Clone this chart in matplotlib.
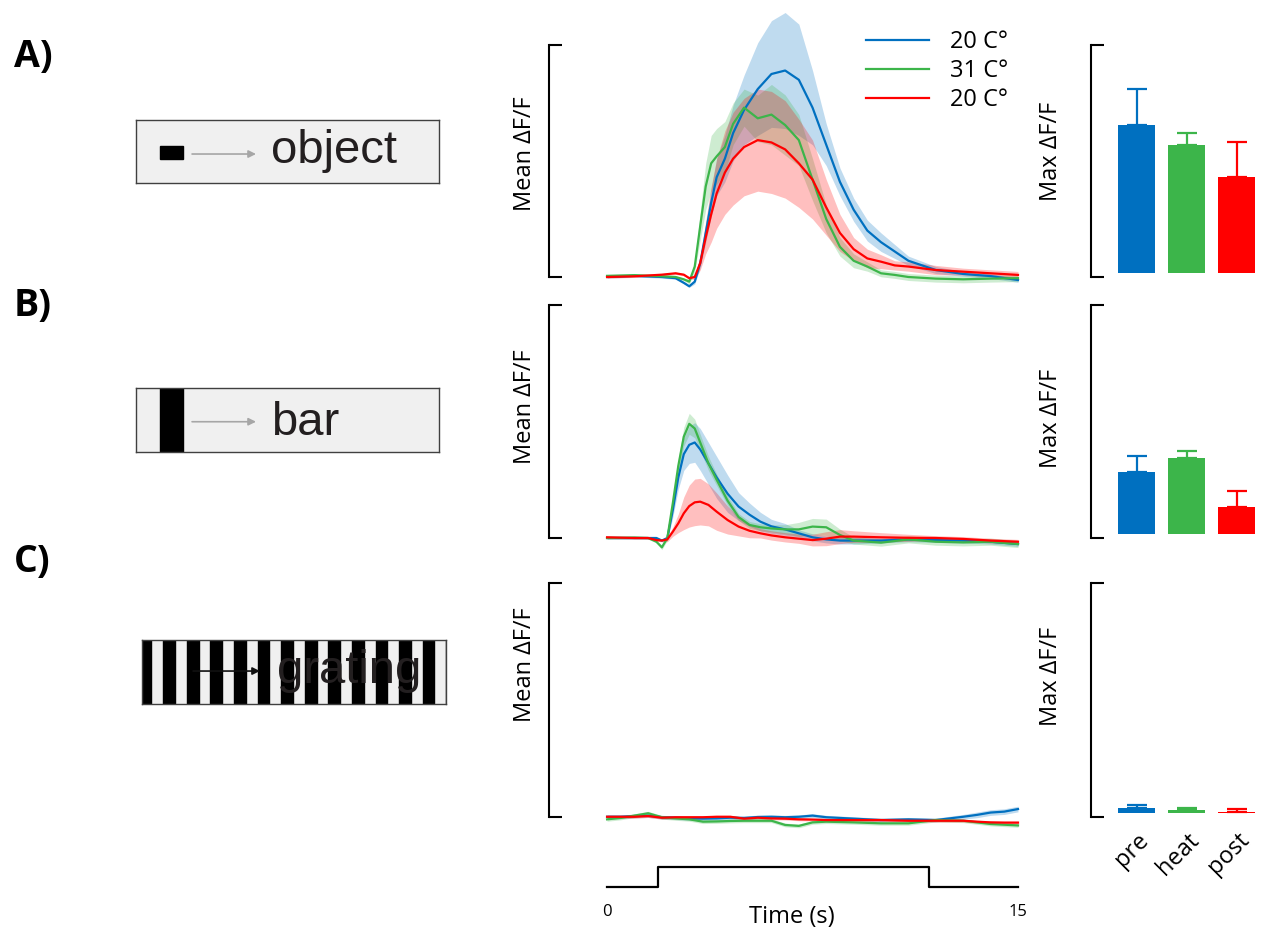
import numpy as np
import matplotlib.pyplot as plt
from matplotlib.patches import Rectangle

plt.rcParams['font.family'] = ['Open Sans', 'DejaVu Sans']

# ---- data (units: fraction of the bracket height) ----
conditions = ['pre', 'heat', 'post']
legend_labels = ['20 C°', '31 C°', '20 C°']
colors = ['#0070c0', '#3cb54a', '#ff0000']

# A) object
t_A = [0, 1, 2, 2.5, 2.8, 3.0, 3.2, 3.4, 3.6, 3.8, 4.0, 4.3, 4.6, 5.0, 5.5,
       6.0, 6.5, 7.0, 7.5, 8.0, 8.5, 9.0, 9.5, 10, 10.5, 11, 12, 13, 14, 15]
A_pre = [0.000, 0.005, 0.000, -0.005, -0.025, -0.040, -0.020, 0.060, 0.190, 0.320,
         0.430, 0.510, 0.620, 0.720, 0.810, 0.875, 0.890, 0.850, 0.730, 0.570,
         0.410, 0.290, 0.200, 0.150, 0.110, 0.070, 0.030, 0.013, 0.004, -0.013]
A_pre_sem = [0.005, 0.005, 0.005, 0.005, 0.005, 0.005, 0.01, 0.02, 0.04, 0.06,
             0.08, 0.10, 0.12, 0.15, 0.20, 0.23, 0.25, 0.24, 0.16, 0.09,
             0.06, 0.05, 0.045, 0.04, 0.03, 0.02, 0.015, 0.01, 0.01, 0.01]
A_heat = [0.005, 0.008, 0.003, 0.000, -0.010, -0.020, 0.045, 0.220, 0.390, 0.490,
          0.520, 0.560, 0.660, 0.730, 0.684, 0.700, 0.655, 0.590, 0.420, 0.250,
          0.130, 0.070, 0.045, 0.016, 0.009, 0.000, -0.007, -0.010, -0.007, -0.005]
A_heat_sem = [0.005, 0.005, 0.005, 0.005, 0.005, 0.01, 0.02, 0.06, 0.10, 0.12,
              0.12, 0.11, 0.09, 0.08, 0.10, 0.13, 0.13, 0.11, 0.09, 0.06,
              0.04, 0.03, 0.02, 0.015, 0.015, 0.015, 0.015, 0.015, 0.015, 0.015]
A_post = [0.000, 0.003, 0.010, 0.016, 0.010, -0.005, 0.000, 0.060, 0.170, 0.270,
          0.360, 0.450, 0.510, 0.560, 0.590, 0.580, 0.550, 0.490, 0.420, 0.300,
          0.190, 0.120, 0.080, 0.066, 0.050, 0.045, 0.030, 0.023, 0.016, 0.009]
A_post_sem = [0.005, 0.005, 0.005, 0.005, 0.005, 0.005, 0.01, 0.03, 0.07, 0.12,
              0.15, 0.18, 0.20, 0.21, 0.22, 0.22, 0.21, 0.19, 0.17, 0.12,
              0.08, 0.05, 0.04, 0.03, 0.02, 0.02, 0.02, 0.015, 0.015, 0.015]

# B) bar
t_B = [0, 1, 1.5, 1.8, 2.0, 2.2, 2.4, 2.6, 2.8, 3.0, 3.2, 3.4, 3.7, 4.0, 4.4, 4.8,
       5.2, 5.6, 6.0, 6.5, 7.0, 7.5, 8.0, 8.5, 9.0, 10, 11, 12, 13, 14, 15]
B_pre = [0.000, 0.000, 0.000, 0.000, -0.011, 0.000, 0.120, 0.260, 0.360, 0.400,
         0.410, 0.380, 0.320, 0.260, 0.190, 0.135, 0.100, 0.070, 0.050, 0.037,
         0.020, 0.003, -0.006, -0.011, -0.011, -0.011, -0.006, -0.009, -0.011, -0.016, -0.026]
B_pre_sem = [0.005, 0.005, 0.005, 0.005, 0.005, 0.01, 0.03, 0.05, 0.07, 0.08,
             0.085, 0.09, 0.09, 0.09, 0.08, 0.06, 0.05, 0.04, 0.03, 0.025,
             0.015, 0.015, 0.015, 0.015, 0.015, 0.01, 0.01, 0.01, 0.01, 0.01, 0.01]
B_heat = [0.000, 0.002, 0.000, -0.016, -0.040, 0.000, 0.150, 0.310, 0.435, 0.490,
          0.470, 0.410, 0.320, 0.250, 0.160, 0.090, 0.056, 0.046, 0.041, 0.037,
          0.037, 0.049, 0.046, 0.013, -0.011, -0.020, -0.006, -0.016, -0.019, -0.016, -0.026]
B_heat_sem = [0.005, 0.005, 0.005, 0.005, 0.01, 0.01, 0.02, 0.03, 0.04, 0.045,
              0.04, 0.035, 0.03, 0.025, 0.02, 0.015, 0.015, 0.015, 0.015, 0.02,
              0.03, 0.035, 0.035, 0.025, 0.015, 0.015, 0.015, 0.015, 0.015, 0.015, 0.015]
B_post = [0.003, 0.000, 0.000, -0.009, -0.011, -0.006, 0.027, 0.063, 0.106, 0.137,
          0.153, 0.156, 0.142, 0.113, 0.077, 0.049, 0.031, 0.020, 0.011, 0.003,
          -0.003, -0.009, -0.003, 0.006, 0.006, 0.003, 0.001, 0.000, -0.004, -0.011, -0.016]
B_post_sem = [0.005, 0.005, 0.005, 0.005, 0.005, 0.01, 0.02, 0.04, 0.07, 0.09,
              0.10, 0.10, 0.09, 0.08, 0.06, 0.04, 0.03, 0.02, 0.02, 0.02,
              0.02, 0.025, 0.03, 0.03, 0.025, 0.02, 0.015, 0.01, 0.01, 0.01, 0.01]

# C) grating
t_C = [0, 0.5, 1, 1.5, 2, 2.5, 3, 3.5, 4, 4.5, 5, 5.5, 6, 6.5, 7, 7.5, 8,
       9, 10, 11, 12, 13, 13.5, 14, 14.5, 15]
C_pre = [0.001, 0.001, 0.004, 0.006, -0.001, -0.003, -0.006, -0.007, -0.006, -0.003,
         -0.004, 0.000, 0.001, -0.001, 0.001, 0.006, -0.001, -0.007, -0.013, -0.010,
         -0.013, 0.001, 0.009, 0.019, 0.023, 0.034]
C_pre_sem = [0.008] * 21 + [0.010, 0.012, 0.012, 0.012, 0.012]
C_heat = [-0.010, -0.004, 0.006, 0.016, -0.001, -0.006, -0.010, -0.020, -0.019, -0.017,
          -0.016, -0.016, -0.016, -0.034, -0.038, -0.023, -0.020, -0.023, -0.027, -0.027,
          -0.013, -0.016, -0.023, -0.030, -0.033, -0.036]
C_heat_sem = [0.008] * 26
C_post = [0.001, 0.001, 0.001, 0.004, -0.003, -0.001, -0.001, -0.001, 0.001, 0.001,
          -0.007, -0.003, -0.006, -0.007, -0.010, -0.011, -0.013, -0.013, -0.013, -0.016,
          -0.016, -0.016, -0.020, -0.023, -0.024, -0.024]
C_post_sem = [0.006] * 26

# max dF/F bars
A_max = [0.650, 0.561, 0.421]
A_max_err = [0.157, 0.053, 0.154]
B_max = [0.270, 0.330, 0.118]
B_max_err = [0.070, 0.030, 0.070]
C_max = [0.020, 0.013, 0.004]
C_max_err = [0.013, 0.010, 0.012]

stim_on, stim_off = 1.85, 11.75
t_end = 15

panels = [
    ('A)', 'object', t_A, [A_pre, A_heat, A_post], [A_pre_sem, A_heat_sem, A_post_sem], A_max, A_max_err),
    ('B)', 'bar', t_B, [B_pre, B_heat, B_post], [B_pre_sem, B_heat_sem, B_post_sem], B_max, B_max_err),
    ('C)', 'grating', t_C, [C_pre, C_heat, C_post], [C_pre_sem, C_heat_sem, C_post_sem], C_max, C_max_err),
]

# ---- layout (pixels of the 1262x932 canvas) ----
W, H = 1262, 932
rows = [(45, 277), (305, 538), (583, 817)]       # top/bottom of each row
letter_y = [57, 306, 562]
icon_boxes = [(136, 120, 439, 183), (136, 388, 439, 452), (142, 640, 446, 704)]
mean_label_y = [0.53, 0.562, 0.65]
max_label_y = [0.543, 0.515, 0.60]


def rect_px(x0, y0, x1, y1):
    return [x0 / W, 1 - y1 / H, (x1 - x0) / W, (y1 - y0) / H]


def bracket(ax, y0, y1):
    for s in ['top', 'right', 'bottom']:
        ax.spines[s].set_visible(False)
    ax.spines['left'].set_linewidth(1.5)
    ax.set_ylim(y0, y1)
    ax.set_yticks([y0, y1])
    ax.set_yticklabels([])
    ax.tick_params(axis='y', direction='in', length=9, width=1.5)
    ax.set_xticks([])


def icon_axes(box):
    ax = fig.add_axes(rect_px(*box))
    ax.set_xlim(0, 1)
    ax.set_ylim(0, 1)
    ax.set_xticks([])
    ax.set_yticks([])
    ax.set_facecolor('#f0f0f0')
    for s in ax.spines.values():
        s.set_color('#404040')
        s.set_linewidth(1.0)
    return ax


def arrow(ax, x0, x1, y, color, head):
    ax.annotate('', xy=(x1, y), xytext=(x0, y),
                arrowprops=dict(arrowstyle='-|>', color=color, fc=head, ec=head,
                                lw=1.2, mutation_scale=11, shrinkA=0, shrinkB=0))


fig = plt.figure(figsize=(W / 100, H / 100), dpi=100)
icon_font = dict(family=['Liberation Sans', 'DejaVu Sans'], fontsize=34, color='#231f20')

for i, (letter, stim, t, means, sems, maxv, maxerr) in enumerate(panels):
    top, bot = rows[i]
    fig.text(14 / W, 1 - letter_y[i] / H, letter, fontsize=27, fontweight='bold',
             ha='left', va='center')

    # stimulus icon
    ia = icon_axes(icon_boxes[i])
    if stim == 'object':
        ia.add_patch(Rectangle((0.079, 0.38), 0.076, 0.207, color='black'))
        arrow(ia, 0.185, 0.396, 0.46, '#a6a6a6', '#a6a6a6')
        ia.text(0.447, 0.317, 'object', ha='left', va='baseline', **icon_font)
    elif stim == 'bar':
        ia.add_patch(Rectangle((0.079, 0), 0.076, 1, color='black'))
        arrow(ia, 0.185, 0.396, 0.473, '#a6a6a6', '#a6a6a6')
        ia.text(0.447, 0.266, 'bar', ha='left', va='baseline', **icon_font)
    else:
        period, width = 0.0776, 0.0385
        for k in range(14):
            ia.add_patch(Rectangle((-0.0076 + k * period, 0), width, 1, color='black'))
        arrow(ia, 0.168, 0.388, 0.515, '#606060', '#111111')
        ia.text(0.443, 0.323, 'grating', ha='left', va='baseline', **icon_font)

    # mean traces
    ax = fig.add_axes(rect_px(549, top, 1018, bot))
    bracket(ax, 0, 1)
    ax.set_xlim(-2.12, t_end)
    for m, s, c in zip(means, sems, colors):
        m, s = np.array(m), np.array(s)
        ax.fill_between(t, m - s, m + s, color=c, alpha=0.25, lw=0, clip_on=False)
    for m, c, lab in zip(means, colors, legend_labels):
        ax.plot(t, m, color=c, lw=1.6, clip_on=False, label=lab,
                solid_joinstyle='round')
    ax.text(-0.051, mean_label_y[i], 'Mean ΔF/F', rotation=90, ha='center', va='center',
            transform=ax.transAxes, fontsize=17)
    if i == 0:
        ax.legend(loc='upper left', bbox_to_anchor=(0.676, 1.063), frameon=False,
                  fontsize=17, handlelength=2.67, handletextpad=0.9, labelspacing=0.2,
                  borderpad=0, borderaxespad=0)

    # max bars
    bx = fig.add_axes(rect_px(1091, top, 1258, bot))
    bracket(bx, -0.018, 1)
    bx.set_xlim(-0.91, 2.42)
    xs = np.arange(len(conditions))
    bx.bar(xs, maxv, width=0.74, color=colors)
    for x, v, e, c in zip(xs, maxv, maxerr, colors):
        bx.errorbar(x, v, yerr=[[0], [e]], color=c, capsize=7.5, elinewidth=1.6,
                    capthick=1.6, fmt='none')
    bx.text(-0.24, max_label_y[i], 'Max ΔF/F', rotation=90, ha='center', va='center',
            transform=bx.transAxes, fontsize=17)
    if i == 2:
        bx.set_xticks(xs)
        bx.set_xticklabels(conditions, rotation=45, ha='right', rotation_mode='anchor',
                           fontsize=17)
        bx.tick_params(axis='x', length=0, pad=8)

# stimulus time course
sx = fig.add_axes(rect_px(549, 867, 1018, 887))
sx.plot([0, stim_on, stim_on, stim_off, stim_off, t_end], [0, 0, 1, 1, 0, 0],
        color='black', lw=1.6, clip_on=False)
sx.set_xlim(-2.12, t_end)
sx.set_ylim(0, 1)
for s in sx.spines.values():
    s.set_visible(False)
sx.set_yticks([])
sx.set_xticks([0, t_end])
sx.set_xticklabels(['0', '15'], fontsize=12)
sx.tick_params(axis='x', length=0, pad=12)
sx.text(0.518, -1.5, 'Time (s)', transform=sx.transAxes, ha='center', va='center',
        fontsize=17)

fig.savefig('out.png', dpi=100)
